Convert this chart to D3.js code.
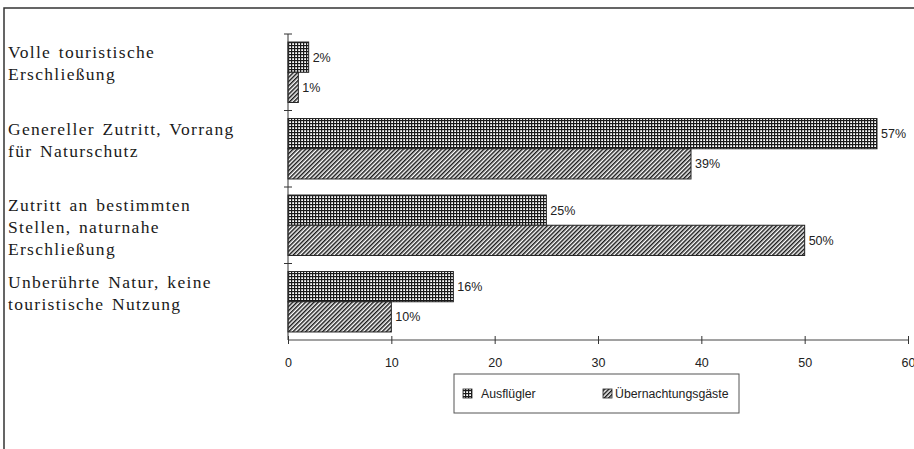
<!DOCTYPE html>
<html><head><meta charset="utf-8">
<script src="https://cdn.jsdelivr.net/npm/d3@7"></script>
<style>
html,body{margin:0;padding:0;background:#fff;}
svg{display:block;}
</style></head>
<body>
<svg id="chart" width="914" height="449"></svg>
<script>
const categories = [
  ["Volle touristische", "Erschließung"],
  ["Genereller Zutritt, Vorrang", "für Naturschutz"],
  ["Zutritt an bestimmten", "Stellen, naturnahe", "Erschließung"],
  ["Unberührte Natur, keine", "touristische Nutzung"]
];
const seriesNames = ["Ausflügler", "Übernachtungsgäste"];
const ausfluegler = [2, 57, 25, 16];
const uebernachtung = [1, 39, 50, 10];
const xTicks = [0, 10, 20, 30, 40, 50, 60];

const SANS = "Liberation Sans, Arial, sans-serif";
const svg = d3.select("#chart");
const defs = svg.append("defs");

// crosshatch pattern
const p1 = defs.append("pattern").attr("id","grid").attr("patternUnits","userSpaceOnUse")
  .attr("width",3).attr("height",3);
p1.append("rect").attr("width",3).attr("height",3).attr("fill","#fff");
p1.append("rect").attr("x",0).attr("y",0).attr("width",1.2).attr("height",3).attr("fill","#1a1a1a");
p1.append("rect").attr("x",0).attr("y",0).attr("width",3).attr("height",1.2).attr("fill","#1a1a1a");

// diagonal hatch
const p2 = defs.append("pattern").attr("id","diag").attr("patternUnits","userSpaceOnUse")
  .attr("width",3).attr("height",3).attr("patternTransform","rotate(45)");
p2.append("rect").attr("width",3).attr("height",3).attr("fill","#fff");
p2.append("rect").attr("x",0).attr("y",0).attr("width",1.5).attr("height",3).attr("fill","#1a1a1a");

const fills = ["url(#grid)", "url(#diag)"];

// outer frame
svg.append("path").attr("d","M4,449V8H914").attr("fill","none").attr("stroke","#333").attr("stroke-width",1.5);

const x = d3.scaleLinear().domain([0,60]).range([288,908]);
const y = d3.scaleBand().domain(d3.range(categories.length)).range([34,340]).paddingInner(0).paddingOuter(0);
const bw = y.bandwidth();
const sub = d3.scaleBand().domain([0,1]).range([bw*0.105, bw*0.895]);

const data = categories.map((c,i)=>({i, vals:[ausfluegler[i], uebernachtung[i]]}));

const g = svg.append("g");
data.forEach(d=>{
  d.vals.forEach((v,s)=>{
    const y0 = y(d.i)+sub(s);
    g.append("rect").attr("x",x(0)).attr("y",y0).attr("width",x(v)-x(0)).attr("height",sub.bandwidth())
      .attr("fill",fills[s]).attr("stroke","#222").attr("stroke-width",1);
    g.append("text").attr("x",x(v)+4).attr("y",y0+sub.bandwidth()/2).attr("dy","0.35em")
      .attr("font-family",SANS).attr("font-size",12.5).attr("fill","#222")
      .text(v+"%");
  });
});

// category labels
categories.forEach((lines,i)=>{
  const t = svg.append("text").attr("font-family","Liberation Serif, Times New Roman, serif")
    .attr("font-size",17.5).attr("letter-spacing",1.3).attr("word-spacing",2).attr("fill","#1a1a1a");
  lines.forEach((ln,k)=>{
    t.append("tspan").attr("x",8).attr("y",y(i)+24+k*22).text(ln);
  });
});

// y axis
const yAxis = svg.append("g").attr("transform",`translate(${x(0)},0)`);
yAxis.append("line").attr("y1",y.range()[0]).attr("y2",y.range()[1]).attr("stroke","#333");
d3.range(categories.length).forEach(i=>{
  yAxis.append("line").attr("x1",-4).attr("x2",4).attr("y1",y(i)).attr("y2",y(i)).attr("stroke","#333");
});

// x axis
const xAxisG = svg.append("g").attr("transform","translate(0,340)")
  .call(d3.axisBottom(x).tickValues(xTicks).tickSize(4).tickPadding(14));
xAxisG.select(".domain").attr("stroke","#444").attr("d",`M${x(0)},0H${x(60)}`);
xAxisG.selectAll(".tick line").attr("y1",-4).attr("y2",4).attr("stroke","#333");
xAxisG.selectAll(".tick text").attr("font-family",SANS).attr("font-size",12.5).attr("fill","#222");

// legend
const lg = svg.append("g");
lg.append("rect").attr("x",454).attr("y",374).attr("width",285).attr("height",39)
  .attr("fill","none").attr("stroke","#555").attr("stroke-width",1);
const legX = [463, 603];
const legTX = [481, 615];
seriesNames.forEach((n,s)=>{
  lg.append("rect").attr("x",legX[s]).attr("y",389).attr("width",9).attr("height",9)
    .attr("fill",fills[s]).attr("stroke","#222").attr("stroke-width",0.8);
  lg.append("text").attr("x",legTX[s]).attr("y",398)
    .attr("font-family",SANS).attr("font-size",12.3).attr("fill","#222").text(n);
});
</script>
</body></html>
